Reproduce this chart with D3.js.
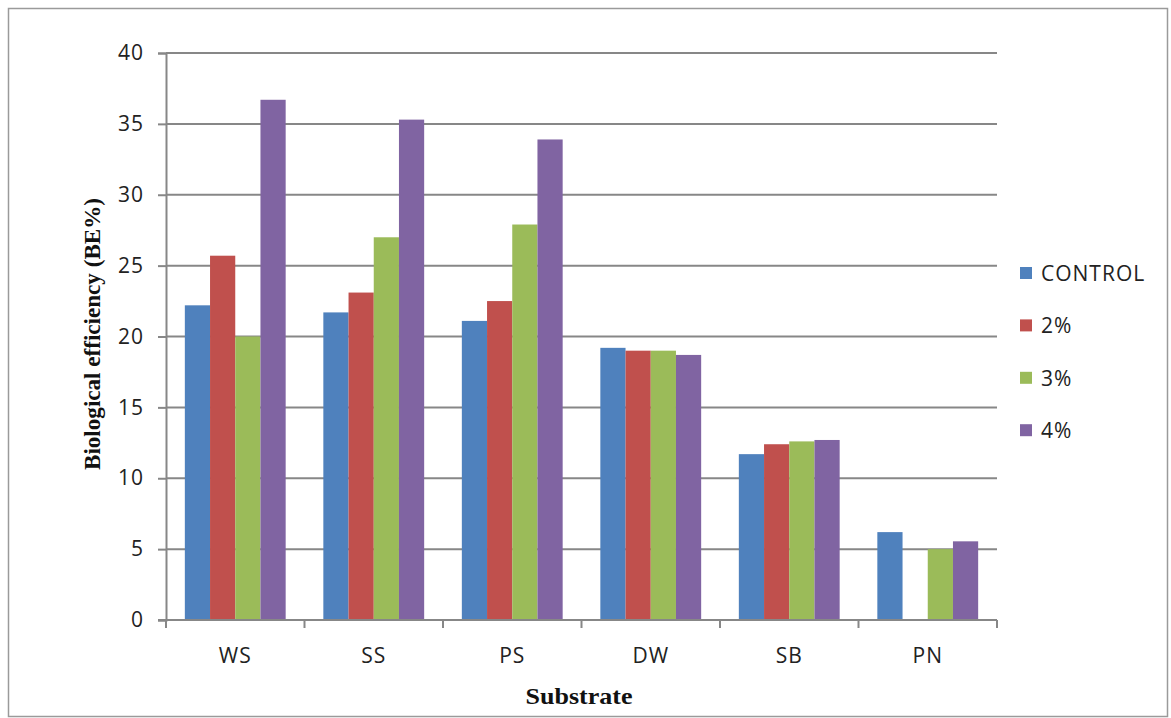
<!DOCTYPE html>
<html>
<head>
<meta charset="utf-8">
<script src="https://cdn.jsdelivr.net/npm/d3@7"></script>
<style>
  html, body { margin: 0; padding: 0; background: #fff; }
  svg { display: block; }
  .tick text { font-family: "Open Sans", sans-serif; }
</style>
</head>
<body>
<svg id="chart" width="1171" height="718"></svg>
<script>
const categories = ["WS", "SS", "PS", "DW", "SB", "PN"];
const seriesNames = ["CONTROL", "2%", "3%", "4%"];
const control = [22.2, 21.7, 21.1, 19.2, 11.7, 6.2];
const pct2    = [25.7, 23.1, 22.5, 19.0, 12.4, 0];
const pct3    = [20.0, 27.0, 27.9, 19.0, 12.6, 5.0];
const pct4    = [36.7, 35.3, 33.9, 18.7, 12.7, 5.55];
const yTicks  = [0, 5, 10, 15, 20, 25, 30, 35, 40];
const colors  = ["#4F81BD", "#C0504D", "#9BBB59", "#8064A2"];
const yTitle = "Biological efficiency (BE%)";
const xTitle = "Substrate";

const seriesValues = [control, pct2, pct3, pct4];

const svg = d3.select("#chart");
const plotLeft = 166, plotRight = 997, plotTop = 53, plotBottom = 620;

// outer border
svg.append("rect")
  .attr("x", 8.5).attr("y", 8.5)
  .attr("width", 1159).attr("height", 708)
  .attr("fill", "none").attr("stroke", "#9a9a9a").attr("stroke-width", 1.5);

const x0 = d3.scaleBand().domain(categories).range([plotLeft, plotRight]).paddingInner(0).paddingOuter(0);
const groupPad = x0.bandwidth() * 0.136;
const x1 = d3.scaleBand().domain(seriesNames)
  .range([groupPad, x0.bandwidth() - groupPad]).padding(0);
const y = d3.scaleLinear().domain([0, 40]).range([plotBottom, plotTop]);

// gridlines
svg.append("g")
  .selectAll("line").data(yTicks.filter(t => t > 0)).join("line")
  .attr("x1", plotLeft).attr("x2", plotRight)
  .attr("y1", d => y(d)).attr("y2", d => y(d))
  .attr("stroke", "#878787").attr("stroke-width", 2);

// bars
const groups = svg.append("g").selectAll("g").data(categories).join("g")
  .attr("transform", d => `translate(${x0(d)},0)`);
groups.selectAll("rect")
  .data((c, i) => seriesNames.map((s, j) => ({ s, j, v: seriesValues[j][i] })))
  .join("rect")
  .attr("x", d => x1(d.s))
  .attr("width", x1.bandwidth())
  .attr("y", d => y(d.v))
  .attr("height", d => y(0) - y(d.v))
  .attr("fill", d => colors[d.j]);

// y axis
const yAxis = d3.axisLeft(y).tickValues(yTicks).tickSize(8).tickPadding(14);
const gy = svg.append("g").attr("transform", `translate(${plotLeft},0)`).call(yAxis);
gy.select(".domain").attr("stroke", "#878787").attr("stroke-width", 2);
gy.selectAll(".tick line").attr("stroke", "#878787").attr("stroke-width", 2);
gy.selectAll(".tick text").attr("font-size", 21).attr("fill", "#222")
  .attr("letter-spacing", "1px");

// x axis (ticks at band boundaries)
const boundaries = categories.map(c => x0(c)).concat([plotRight]);
const gx = svg.append("g");
gx.append("line").attr("x1", plotLeft - 8).attr("x2", plotRight)
  .attr("y1", plotBottom).attr("y2", plotBottom)
  .attr("stroke", "#878787").attr("stroke-width", 2);
gx.selectAll("line.tk").data(boundaries).join("line").attr("class", "tk")
  .attr("x1", d => d).attr("x2", d => d)
  .attr("y1", plotBottom).attr("y2", plotBottom + 8)
  .attr("stroke", "#878787").attr("stroke-width", 2);
gx.selectAll("text").data(categories).join("text")
  .attr("x", d => x0(d) + x0.bandwidth() / 2)
  .attr("y", 663)
  .attr("text-anchor", "middle")
  .attr("font-family", "Open Sans, sans-serif")
  .attr("font-size", 21).attr("letter-spacing", "1px")
  .attr("fill", "#222")
  .text(d => d);

// axis titles
svg.append("text")
  .attr("transform", "translate(100,334) rotate(-90)")
  .attr("text-anchor", "middle")
  .attr("font-family", "Liberation Serif, Times New Roman, serif")
  .attr("font-weight", "bold").attr("font-size", 23)
  .attr("textLength", 272).attr("lengthAdjust", "spacingAndGlyphs")
  .attr("fill", "#111")
  .text(yTitle);

svg.append("text")
  .attr("x", 579).attr("y", 704)
  .attr("text-anchor", "middle")
  .attr("font-family", "Liberation Serif, Times New Roman, serif")
  .attr("font-weight", "bold").attr("font-size", 23)
  .attr("textLength", 107).attr("lengthAdjust", "spacingAndGlyphs")
  .attr("fill", "#111")
  .text(xTitle);

// legend
const legend = svg.append("g").selectAll("g").data(seriesNames).join("g")
  .attr("transform", (d, i) => `translate(1020, ${273 + i * 52.4})`);
legend.append("rect")
  .attr("x", 0).attr("y", -6).attr("width", 12).attr("height", 12)
  .attr("fill", (d, i) => colors[i]);
legend.append("text")
  .attr("x", 21).attr("y", 8)
  .attr("font-family", "Open Sans, sans-serif")
  .attr("font-size", 21).attr("letter-spacing", "1px")
  .attr("fill", "#222")
  .text(d => d);
</script>
</body>
</html>
